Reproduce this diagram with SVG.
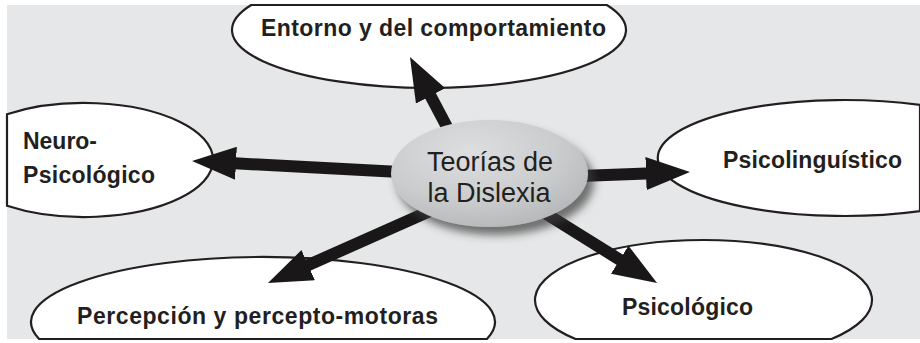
<svg xmlns="http://www.w3.org/2000/svg" width="920" height="343" viewBox="0 0 920 343">
<defs>
<style>
.bg{fill:#e6e7e8}
.node{fill:#ffffff;stroke:#231f20;stroke-width:2.2}
.lbl{font-family:"Liberation Sans",Arial,Helvetica,sans-serif;font-weight:bold;font-size:23px;fill:#231f20}
.ctr{font-family:"Liberation Sans",Arial,Helvetica,sans-serif;font-size:27px;fill:#231f20;text-anchor:middle}
.conn{stroke:#1a1718;stroke-width:12;fill:none;marker-end:url(#head)}
</style>
<marker id="head" markerUnits="userSpaceOnUse" markerWidth="44" markerHeight="33" refX="14" refY="16.5" orient="auto" viewBox="0 0 44 33">
<path d="M0,0 L44,16.5 L0,33 Z" fill="#1a1718"/>
</marker>
<radialGradient id="cg" cx="0.4" cy="0.3" r="0.75">
<stop offset="0" stop-color="#dddedf"/>
<stop offset="0.6" stop-color="#cbcccE"/>
<stop offset="1" stop-color="#b5b6b8"/>
</radialGradient>
<filter id="sh" x="-20%" y="-20%" width="150%" height="160%">
<feDropShadow dx="6" dy="8" stdDeviation="4.5" flood-color="#3e3e3e" flood-opacity="0.7"/>
</filter>
</defs>
<rect class="bg" x="7" y="5" width="913" height="334"/>

<g id="node-entorno">
<path class="node" d="M251.2,5 A197,58 0 1 0 606.8,5 Z"/>
<text class="lbl" x="261" y="36" textLength="345" lengthAdjust="spacing">Entorno y del comportamiento</text>
</g>
<g id="node-neuro">
<path class="node" d="M7,114.3 A129,57 0 1 1 7,205.7 Z"/>
<text class="lbl" x="23" y="149" textLength="74" lengthAdjust="spacing">Neuro-</text>
<text class="lbl" x="23" y="183" textLength="132" lengthAdjust="spacing">Psicológico</text>
</g>
<g id="node-psicolinguistico">
<path class="node" d="M920,104.9 A187,58 0 1 0 920,211.1 Z"/>
<text class="lbl" x="723" y="168" textLength="179" lengthAdjust="spacing">Psicolingu&#237;stico</text>
</g>
<g id="node-psicologico">
<path class="node" d="M575.5,339 A168.5,60 0 1 1 831.5,339 Z"/>
<text class="lbl" x="622" y="315" textLength="131" lengthAdjust="spacing">Psicológico</text>
</g>
<g id="node-percepcion">
<path class="node" d="M39.1,339 A232,65 0 1 1 486.9,339 Z"/>
<text class="lbl" x="77" y="324" textLength="361" lengthAdjust="spacing">Percepción y percepto-motoras</text>
</g>

<g id="connectors">
<line class="conn" x1="447" y1="127" x2="424" y2="83.5"/>
<line class="conn" x1="400" y1="172" x2="222" y2="162.6"/>
<line class="conn" x1="580" y1="176" x2="660" y2="173.1"/>
<line class="conn" x1="540" y1="210" x2="631.6" y2="267.1"/>
<line class="conn" x1="430" y1="211" x2="295.4" y2="270.8"/>
</g>

<g id="node-teorias">
<ellipse cx="489.5" cy="173.5" rx="98.5" ry="53.5" fill="url(#cg)" filter="url(#sh)"/>
<text class="ctr" x="490" y="171">Teorías de</text>
<text class="ctr" x="489" y="202">la Dislexia</text>
</g>
</svg>
